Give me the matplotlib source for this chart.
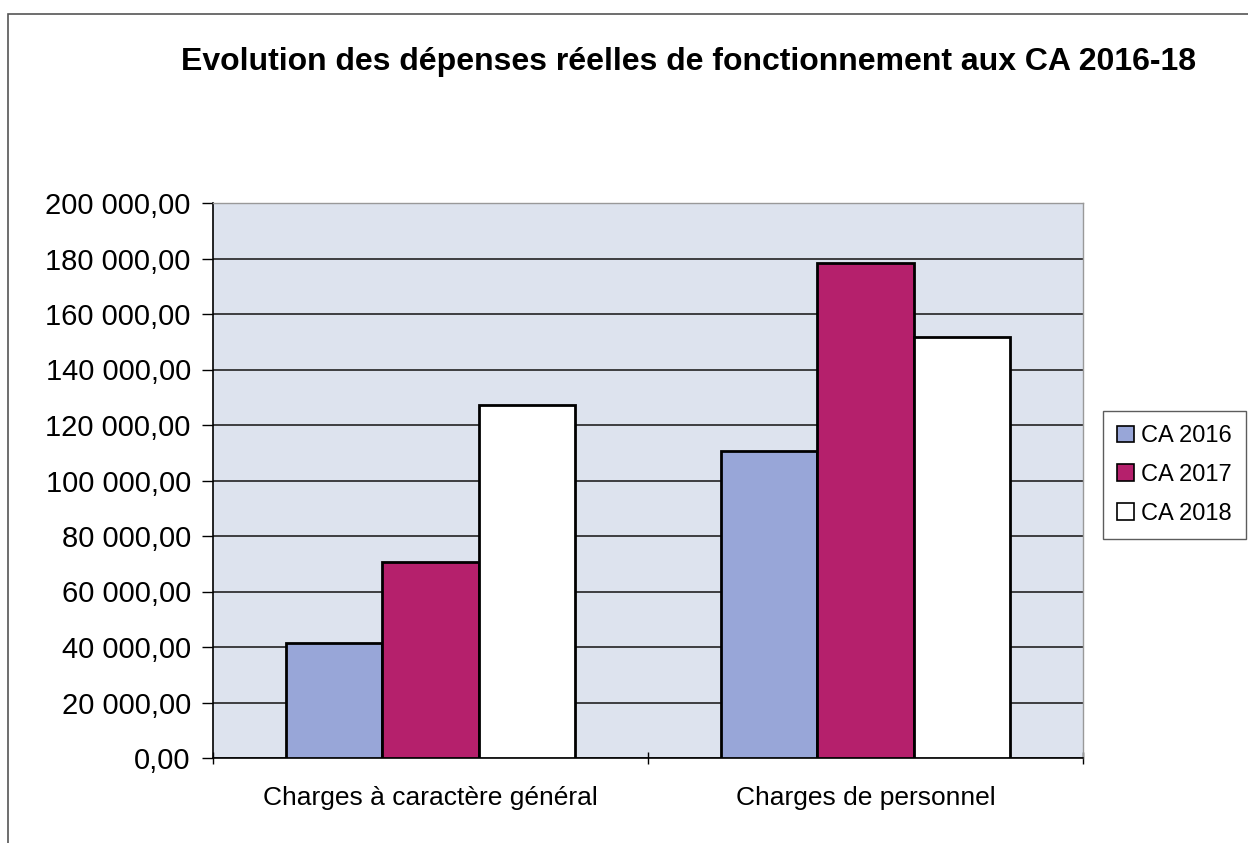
import matplotlib.pyplot as plt
import matplotlib.ticker as ticker
from matplotlib.patches import Rectangle
import numpy as np

categories = ['Charges à caractère général', 'Charges de personnel']
series = ['CA 2016', 'CA 2017', 'CA 2018']
values = {
    'CA 2016': [41500, 110500],
    'CA 2017': [70600, 178500],
    'CA 2018': [127200, 151700],
}
colors = {'CA 2016': '#98a6d8', 'CA 2017': '#b5206c', 'CA 2018': '#ffffff'}
title = 'Evolution des dépenses réelles de fonctionnement aux CA 2016-18'

plt.rcParams['font.family'] = ['Liberation Sans', 'DejaVu Sans']


def frNumber(v, _pos=None):
    s = f'{v:,.2f}'
    return s.replace(',', ' ').replace('.', ',')


fig = plt.figure(figsize=(12.48, 8.43), dpi=100)
fig.patches.append(Rectangle((8/1248, -0.1), 1.1, 1 - 14/843 + 0.1,
                             transform=fig.transFigure, fill=False,
                             edgecolor='#555555', linewidth=1.2))
ax = fig.add_axes([213/1248, 1 - 758/843, 870/1248, 555/843])
ax.set_facecolor('#dde3ee')

w = 0.221
x = np.arange(len(categories))
for i, s in enumerate(series):
    ax.bar(x + (i - 1) * w, values[s], width=w, color=colors[s],
           edgecolor='black', linewidth=2, label=s, zorder=3)

ax.set_xlim(-0.5, len(categories) - 0.5)
ax.set_ylim(0, 200000)
ax.yaxis.set_major_locator(ticker.MultipleLocator(20000))
ax.yaxis.set_major_formatter(ticker.FuncFormatter(frNumber))
ax.yaxis.grid(True, color='#222222', linewidth=1.2, zorder=1)
ax.set_axisbelow(True)

ax.set_xticks(x)
ax.set_xticklabels(categories)
ax.xaxis.set_minor_locator(ticker.FixedLocator([-0.5, 0.5, 1.5]))
ax.tick_params(axis='x', which='major', length=0, pad=20, labelsize=19)
ax.tick_params(axis='x', which='minor', length=8, width=1, direction='inout')
ax.tick_params(axis='y', length=8, width=1, labelsize=21, pad=8)

for side in ['top', 'right']:
    ax.spines[side].set_color('#999999')
    ax.spines[side].set_linewidth(1)
for side in ['left', 'bottom']:
    ax.spines[side].set_color('black')
    ax.spines[side].set_linewidth(1.2)

fig.text(689/1248, 1 - 62/843, title, ha='center', va='center',
         fontsize=23, fontweight='bold')

leg = ax.legend(loc='center left', bbox_to_anchor=(1103/1248, 1 - 475/843),
                bbox_transform=fig.transFigure, fontsize=17, frameon=True,
                fancybox=False, edgecolor='#333333', handlelength=0.7,
                handleheight=0.7, handletextpad=0.3, labelspacing=0.7,
                borderpad=0.6, borderaxespad=0)
leg.get_frame().set_linewidth(1)
for h in leg.legend_handles:
    h.set_linewidth(1.2)

fig.savefig('out.png', dpi=100)
